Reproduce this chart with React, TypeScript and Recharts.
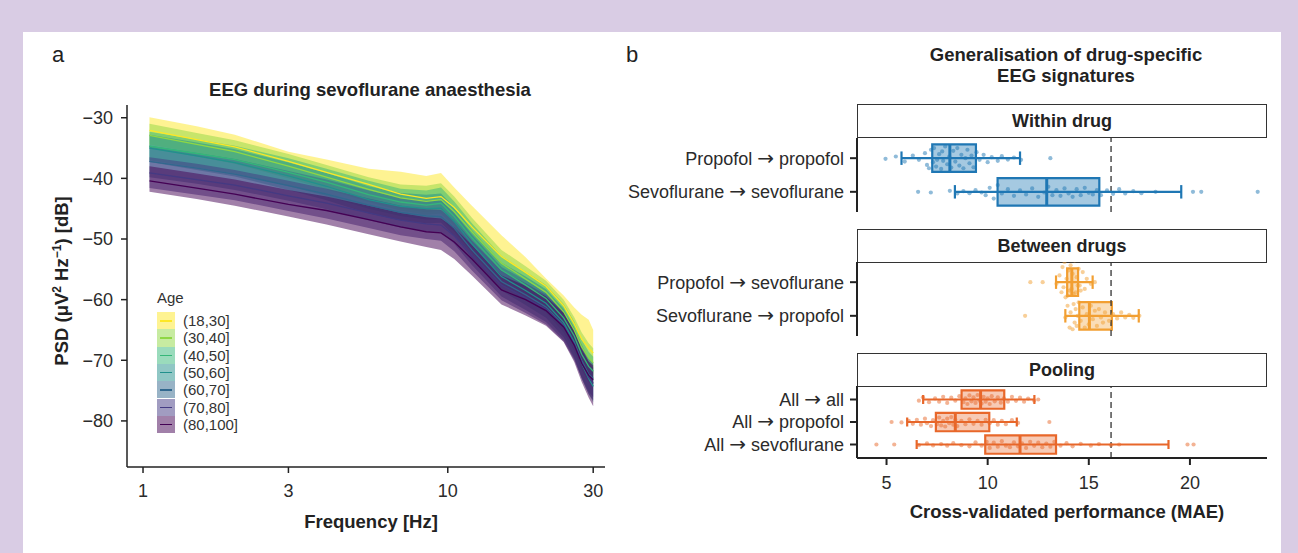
import React from "react";
import {
  ComposedChart,
  Area,
  Line,
  XAxis,
  YAxis,
  Scatter,
  ReferenceArea,
  ReferenceLine,
} from "recharts";

const FONT = '"Liberation Sans", Arial, sans-serif';

// ---- panel a: PSD by age group ----
const freqs = [1.05, 1.5, 2, 3, 4, 5.5, 7, 8.5, 9.5, 10.5, 12, 15, 18, 21, 24, 26, 27.5, 29, 30];

const ageGroups = ["(18,30]", "(30,40]", "(40,50]", "(50,60]", "(60,70]", "(70,80]", "(80,100]"];
const ageColors = ["#FDE725", "#8FD744", "#35B779", "#21908C", "#31688E", "#443A83", "#440154"];

const med18 = [-32.1, -33.6, -34.8, -37.2, -39.0, -41.0, -42.6, -43.3, -43.0, -44.8, -48.0, -52.9, -55.5, -57.8, -61.0, -64.0, -66.5, -68.0, -68.8];
const hi18 = [-29.9, -31.4, -32.8, -35.6, -36.9, -38.4, -38.9, -39.6, -39.1, -41.5, -44.5, -49.4, -53.0, -56.5, -59.3, -61.3, -62.5, -63.3, -65.0];
const lo18 = [-34.4, -35.8, -37.0, -39.5, -41.3, -43.5, -45.0, -45.6, -45.3, -47.2, -50.5, -55.4, -58.2, -60.6, -64.0, -67.3, -70.0, -71.5, -72.3];

const med30 = [-32.9, -34.4, -35.6, -38.0, -39.8, -41.8, -43.2, -43.8, -43.5, -45.5, -48.8, -54.0, -56.6, -58.8, -62.0, -65.0, -67.8, -69.6, -70.4];
const hi30 = [-31.0, -32.5, -33.7, -36.0, -37.8, -39.8, -41.0, -41.2, -40.8, -43.0, -46.5, -51.8, -54.5, -56.9, -60.0, -62.9, -65.4, -67.2, -68.0];
const lo30 = [-35.0, -36.4, -37.6, -40.0, -41.8, -43.9, -45.3, -46.0, -45.8, -47.9, -51.2, -56.3, -58.9, -61.1, -64.4, -67.6, -70.6, -72.4, -73.2];

const med40 = [-34.7, -35.9, -36.9, -39.0, -40.6, -42.7, -43.9, -44.4, -44.1, -46.3, -49.8, -55.1, -57.6, -59.8, -63.0, -66.0, -69.0, -71.0, -71.8];
const hi40 = [-32.3, -33.6, -34.6, -36.7, -38.4, -40.4, -41.7, -42.0, -41.5, -43.8, -47.4, -52.8, -55.4, -57.6, -60.7, -63.6, -66.6, -68.6, -69.4];
const lo40 = [-37.0, -38.2, -39.2, -41.3, -42.9, -45.0, -46.2, -46.8, -46.7, -48.8, -52.2, -57.4, -59.9, -62.1, -65.4, -68.5, -71.6, -73.6, -74.4];

const med50 = [-35.0, -36.3, -37.4, -39.6, -41.3, -43.5, -44.6, -45.0, -44.9, -47.1, -50.8, -56.2, -58.5, -60.6, -63.8, -67.0, -70.5, -73.0, -74.3];
const hi50 = [-32.8, -34.1, -35.2, -37.4, -39.1, -41.3, -42.4, -42.7, -42.5, -44.8, -48.5, -53.9, -56.2, -58.3, -61.5, -64.6, -68.0, -70.5, -71.8];
const lo50 = [-37.3, -38.6, -39.7, -41.9, -43.6, -45.8, -46.9, -47.4, -47.3, -49.5, -53.1, -58.5, -60.9, -63.0, -66.2, -69.5, -73.0, -75.6, -76.9];

const med60 = [-37.2, -38.3, -39.3, -41.2, -42.6, -44.4, -45.6, -46.2, -46.3, -48.2, -51.8, -57.0, -59.2, -61.2, -64.2, -67.2, -70.0, -72.3, -73.0];
const hi60 = [-34.6, -35.8, -36.8, -38.8, -40.2, -42.0, -43.2, -43.7, -43.6, -45.7, -49.3, -54.6, -56.8, -58.8, -61.8, -64.7, -67.4, -69.7, -70.4];
const lo60 = [-39.8, -40.9, -41.9, -43.7, -45.1, -46.9, -48.1, -48.7, -48.9, -50.8, -54.3, -59.5, -61.7, -63.7, -66.7, -69.8, -72.8, -75.2, -76.0];

const med70 = [-39.1, -40.2, -41.1, -42.9, -44.1, -45.7, -46.9, -47.5, -47.7, -49.5, -52.7, -57.6, -59.7, -61.6, -64.4, -67.4, -70.3, -72.8, -73.8];
const hi70 = [-36.5, -37.6, -38.6, -40.4, -41.7, -43.3, -44.5, -45.1, -45.2, -47.0, -50.3, -55.2, -57.3, -59.2, -62.0, -65.0, -67.8, -70.2, -71.2];
const lo70 = [-41.6, -42.7, -43.6, -45.4, -46.6, -48.2, -49.4, -50.0, -50.3, -52.0, -55.2, -60.1, -62.2, -64.1, -66.9, -70.0, -73.0, -75.6, -76.6];

const med80 = [-40.4, -41.6, -42.6, -44.3, -45.3, -46.8, -48.0, -48.8, -49.0, -50.5, -53.3, -58.4, -60.0, -61.8, -64.5, -67.5, -70.5, -72.5, -73.2];
const hi80 = [-38.0, -39.2, -40.2, -41.9, -43.0, -44.5, -45.7, -46.4, -46.6, -48.1, -51.0, -56.0, -57.7, -59.5, -62.2, -65.2, -68.2, -70.2, -70.8];
const lo80 = [-42.2, -43.4, -44.5, -46.3, -47.6, -49.2, -50.4, -51.3, -51.8, -53.3, -56.0, -60.8, -62.6, -64.3, -67.0, -70.3, -73.6, -76.2, -77.6];

const medians = [med18, med30, med40, med50, med60, med70, med80];
const highs = [hi18, hi30, hi40, hi50, hi60, hi70, hi80];
const lows = [lo18, lo30, lo40, lo50, lo60, lo70, lo80];

const psdTicksX = [1, 3, 10, 30];
const psdTicksY = [-30, -40, -50, -60, -70, -80];

// ---- panel b: cross-validated MAE ----
const maeTicks = [5, 10, 15, 20];
const chanceLevel = 16.1;

const withinLabels = ["Propofol \u2192 propofol", "Sevoflurane \u2192 sevoflurane"];
// [lower whisker, q1, median, q3, upper whisker]
const withinStats = [
  [5.74, 7.26, 8.13, 9.42, 11.6],
  [8.38, 10.49, 12.92, 15.52, 19.57],
];
const withinPropofol = [[4.95, 0.02], [5.46, -0.05], [5.9, 0.1], [6.3, -0.08], [6.6, 0.05], [6.9, -0.15], [7.0, 0.2], [7.1, 0.3], [7.2, -0.25], [7.3, 0.12], [7.35, -0.3], [7.45, 0.25], [7.5, 0.05], [7.6, -0.12], [7.7, 0.32], [7.75, -0.2], [7.8, 0.08], [7.9, -0.35], [8.0, 0.18], [8.1, -0.05], [8.2, 0.28], [8.3, -0.22], [8.4, 0.1], [8.5, -0.3], [8.6, 0.22], [8.7, -0.1], [8.8, 0.3], [8.9, 0.0], [9.0, -0.25], [9.1, 0.15], [9.2, -0.08], [9.3, 0.27], [9.45, -0.18], [9.6, 0.05], [9.8, -0.1], [10.0, 0.12], [10.2, -0.03], [10.5, 0.08], [10.7, -0.06], [11.0, 0.04], [11.3, -0.02], [11.65, 0.05], [13.1, 0.0]];
const withinSevo = [[6.56, 0.0], [7.19, 0.02], [8.13, -0.03], [8.5, 0.05], [8.8, -0.02], [9.1, 0.04], [9.4, -0.05], [9.7, 0.02], [9.9, 0.1], [10.1, -0.12], [10.3, 0.2], [10.5, -0.2], [10.7, 0.05], [11.0, -0.08], [11.3, 0.12], [11.6, -0.04], [11.9, 0.08], [12.2, -0.1], [12.5, 0.15], [12.8, 0.02], [13.0, -0.15], [13.2, 0.1], [13.4, -0.05], [13.6, 0.12], [13.8, -0.1], [14.0, 0.05], [14.2, 0.15], [14.4, -0.08], [14.6, 0.1], [14.8, -0.12], [15.0, 0.03], [15.2, 0.08], [15.4, -0.05], [15.6, 0.1], [15.9, -0.04], [16.2, 0.06], [16.5, -0.08], [16.8, 0.05], [17.2, -0.02], [17.6, 0.04], [18.3, 0.0], [20.15, 0.0], [20.56, 0.0], [23.35, 0.0]];

const betweenLabels = ["Propofol \u2192 sevoflurane", "Sevoflurane \u2192 propofol"];
const betweenStats = [
  [13.38, 13.93, 14.16, 14.47, 15.19],
  [13.84, 14.53, 15.03, 16.14, 17.47],
];
const betweenPropSevo = [[12.11, 0.0], [12.72, 0.0], [13.4, 0.05], [13.55, -0.2], [13.65, 0.3], [13.7, -0.45], [13.75, 0.15], [13.8, -0.6], [13.85, 0.45], [13.9, -0.1], [13.95, 0.4], [14.0, -0.35], [14.05, 0.25], [14.1, -0.5], [14.15, 0.2], [14.2, -0.25], [14.25, 0.35], [14.3, -0.65], [14.35, 0.3], [14.4, -0.15], [14.45, 0.1], [14.5, -0.4], [14.55, 0.1], [14.6, 0.25], [14.7, -0.3], [14.8, 0.2], [14.9, -0.1], [15.1, 0.05], [15.3, 0.0]];
const betweenSevoProp = [[11.85, 0.0], [13.84, 0.05], [13.95, -0.3], [14.05, 0.35], [14.1, -0.1], [14.2, 0.4], [14.25, -0.35], [14.3, 0.2], [14.35, -0.2], [14.4, 0.3], [14.45, 0.0], [14.5, -0.4], [14.6, 0.15], [14.7, -0.25], [14.8, 0.35], [14.9, -0.05], [15.0, 0.25], [15.1, -0.3], [15.2, 0.1], [15.3, -0.15], [15.4, 0.3], [15.5, -0.2], [15.6, 0.05], [15.7, 0.2], [15.8, -0.1], [16.0, 0.15], [16.2, -0.05], [16.4, 0.08], [16.6, -0.1], [16.8, 0.05], [17.0, -0.03], [17.2, 0.06], [17.5, 0.0]];

const poolingLabels = ["All \u2192 all", "All \u2192 propofol", "All \u2192 sevoflurane"];
const poolingStats = [
  [6.81, 8.71, 9.65, 10.82, 12.31],
  [6.02, 7.44, 8.4, 10.08, 11.44],
  [6.49, 9.88, 11.6, 13.38, 18.94],
];
const poolAll = [[6.6, 0.05], [6.8, -0.1], [7.1, 0.12], [7.4, -0.05], [7.6, 0.1], [7.8, -0.12], [8.0, 0.15], [8.2, -0.08], [8.4, 0.05], [8.6, -0.15], [8.8, 0.12], [8.9, -0.05], [9.0, 0.2], [9.1, -0.18], [9.2, 0.08], [9.3, -0.1], [9.4, 0.15], [9.5, -0.2], [9.6, 0.05], [9.7, 0.18], [9.8, -0.12], [9.9, 0.1], [10.0, -0.05], [10.1, 0.2], [10.2, -0.15], [10.35, 0.08], [10.5, -0.1], [10.65, 0.14], [10.8, -0.05], [11.0, 0.1], [11.2, -0.12], [11.4, 0.06], [11.6, -0.08], [11.8, 0.1], [12.0, -0.04], [12.3, 0.05], [12.5, 0.0]];
const poolProp = [[5.25, 0.0], [5.74, 0.02], [6.1, -0.05], [6.3, 0.08], [6.5, -0.1], [6.7, 0.12], [6.9, -0.15], [7.0, 0.05], [7.2, 0.18], [7.3, -0.08], [7.5, 0.1], [7.6, -0.2], [7.7, 0.15], [7.8, -0.05], [7.9, 0.2], [8.0, -0.15], [8.1, 0.05], [8.2, -0.22], [8.3, 0.12], [8.4, -0.1], [8.5, 0.18], [8.7, -0.05], [8.9, 0.1], [9.1, -0.12], [9.3, 0.08], [9.5, -0.05], [9.7, 0.12], [9.9, -0.1], [10.1, 0.05], [10.3, -0.08], [10.5, 0.12], [10.7, -0.05], [10.9, 0.1], [11.2, -0.08], [11.5, 0.04], [13.05, 0.0]];
const poolSevo = [[4.5, 0.0], [5.38, 0.0], [6.6, 0.03], [7.0, -0.05], [7.3, 0.04], [7.7, -0.02], [8.0, 0.05], [8.3, -0.06], [8.7, 0.03], [9.1, 0.08], [9.4, -0.1], [9.7, 0.05], [9.95, -0.12], [10.1, 0.15], [10.3, -0.08], [10.5, 0.1], [10.7, -0.15], [10.9, 0.05], [11.1, 0.12], [11.3, -0.1], [11.5, 0.08], [11.7, -0.05], [11.9, 0.15], [12.1, -0.12], [12.3, 0.06], [12.5, -0.08], [12.7, 0.12], [12.9, -0.04], [13.1, 0.1], [13.3, -0.12], [13.6, 0.05], [13.9, -0.06], [14.2, 0.08], [14.6, -0.03], [15.1, 0.05], [15.5, -0.02], [16.1, 0.03], [16.5, 0.0], [19.88, 0.0], [20.18, 0.0]];

const psdData = freqs.map((f, i) => {
  const row: Record<string, any> = { f };
  ageGroups.forEach((_, g) => {
    row["m" + g] = medians[g][i];
    row["r" + g] = [lows[g][i], highs[g][i]];
  });
  return row;
});

const tickStyle = { fill: "#2b2b2b", fontSize: 18, fontFamily: FONT };

function Txt({ x, y, size = 18.5, bold = true, children, style = {} }: any) {
  return (
    <div
      style={{
        position: "absolute",
        left: x,
        top: y,
        transform: "translate(-50%, -50%)",
        fontSize: size,
        fontWeight: bold ? 700 : 400,
        lineHeight: 1,
        whiteSpace: "nowrap",
        color: "#222",
        ...style,
      }}
    >
      {children}
    </div>
  );
}

const PsdChart = () => (
  <ComposedChart
    width={620}
    height={553}
    data={psdData}
    margin={{ top: 105, right: 15, bottom: 56, left: 77 }}
  >
    <XAxis
      dataKey="f"
      type="number"
      scale="log"
      domain={[0.886, 32.8]}
      ticks={psdTicksX}
      allowDataOverflow
      height={30}
      tick={tickStyle}
      tickSize={6}
      tickMargin={11}
      axisLine={{ stroke: "#222", strokeWidth: 1.5 }}
      tickLine={{ stroke: "#222", strokeWidth: 1.5 }}
    />
    <YAxis
      type="number"
      domain={[-87.6, -27.9]}
      ticks={psdTicksY}
      allowDataOverflow
      width={50}
      tick={tickStyle}
      tickSize={6}
      tickMargin={8}
      tickFormatter={(v: number) => "\u2212" + Math.abs(v)}
      axisLine={{ stroke: "#222", strokeWidth: 1.5 }}
      tickLine={{ stroke: "#222", strokeWidth: 1.5 }}
    />
    {ageGroups.map((g, i) => (
      <Area
        key={"a" + g}
        dataKey={"r" + i}
        type="linear"
        stroke="none"
        fill={ageColors[i]}
        fillOpacity={0.5}
        isAnimationActive={false}
      />
    ))}
    {ageGroups.map((g, i) => (
      <Line
        key={"l" + g}
        dataKey={"m" + i}
        type="linear"
        stroke={ageColors[i]}
        strokeWidth={1.3}
        dot={false}
        isAnimationActive={false}
      />
    ))}
  </ComposedChart>
);

const Dot = (props: any) => {
  const { cx, cy, fill } = props;
  if (cx == null || cy == null) return null;
  return <circle cx={cx} cy={cy} r={2.1} fill={fill} fillOpacity={0.5} />;
};

// row label with a wider arrow glyph
const RowTick = (props: any) => {
  const { x, y, payload, labels } = props;
  const label: string = labels[Math.round(payload.value) - 1] || "";
  const [from, to] = label.split(" \u2192 ");
  return (
    <text x={x} y={y} dy="0.36em" textAnchor="end" fill="#2b2b2b" fontSize={18} fontFamily={FONT}>
      {from + " "}
      <tspan fontFamily='"DejaVu Sans", sans-serif' fontSize={20}>{"\u2192"}</tspan>
      {" " + to}
    </text>
  );
};

function Facet({ labels, stats, points, color, showX, boxOpacity }: any) {
  const n = labels.length;
  const dots = points.flatMap((pts: number[][], i: number) =>
    pts.map(([v, j]) => ({ x: v, y: i + 1 + j }))
  );
  const plotH = n === 3 ? 72 : 74;
  const half = 0.41;
  const cap = 0.2;
  return (
    <ComposedChart
      width={680}
      height={8 + plotH + (showX ? 42 : 8)}
      margin={{ top: 8, right: 13, bottom: showX ? 0 : 8, left: 17 }}
    >
      <XAxis
        dataKey="x"
        type="number"
        domain={[3.54, 23.81]}
        ticks={maeTicks}
        allowDataOverflow
        hide={!showX}
        height={42}
        tick={tickStyle}
        tickSize={7}
        tickMargin={11}
        axisLine={{ stroke: "#222", strokeWidth: 2 }}
        tickLine={{ stroke: "#222", strokeWidth: 2 }}
      />
      <YAxis
        dataKey="y"
        type="number"
        reversed
        domain={[0.4, n + 0.6]}
        ticks={labels.map((_: string, i: number) => i + 1)}
        interval={0}
        allowDataOverflow
        width={240}
        tick={<RowTick labels={labels} />}
        tickSize={7}
        tickMargin={6}
        axisLine={{ stroke: "#222", strokeWidth: 2 }}
        tickLine={{ stroke: "#222", strokeWidth: 2 }}
      />
      <ReferenceLine x={chanceLevel} stroke="#333" strokeWidth={1.3} strokeDasharray="6 4" />
      {stats.map((s: number[], i: number) => (
        <ReferenceLine
          key={"w" + i}
          segment={[{ x: s[0], y: i + 1 }, { x: s[4], y: i + 1 }]}
          stroke={color}
          strokeWidth={2.2}
        />
      ))}
      {stats.map((s: number[], i: number) => (
        <ReferenceLine
          key={"cl" + i}
          segment={[{ x: s[0], y: i + 1 - cap }, { x: s[0], y: i + 1 + cap }]}
          stroke={color}
          strokeWidth={2.2}
        />
      ))}
      {stats.map((s: number[], i: number) => (
        <ReferenceLine
          key={"ch" + i}
          segment={[{ x: s[4], y: i + 1 - cap }, { x: s[4], y: i + 1 + cap }]}
          stroke={color}
          strokeWidth={2.2}
        />
      ))}
      {stats.map((s: number[], i: number) => (
        <ReferenceArea
          key={"b" + i}
          x1={s[1]}
          x2={s[3]}
          y1={i + 1 - half}
          y2={i + 1 + half}
          fill={color}
          fillOpacity={boxOpacity}
          stroke={color}
          strokeWidth={2.2}
          strokeOpacity={1}
        />
      ))}
      {stats.map((s: number[], i: number) => (
        <ReferenceLine
          key={"m" + i}
          segment={[{ x: s[2], y: i + 1 - half }, { x: s[2], y: i + 1 + half }]}
          stroke={color}
          strokeWidth={3}
        />
      ))}
      <Scatter data={dots} fill={color} shape={<Dot />} isAnimationActive={false} />
    </ComposedChart>
  );
}

function Strip({ top, title }: any) {
  return (
    <div
      style={{
        position: "absolute",
        left: 857,
        top,
        width: 410,
        height: 34,
        boxSizing: "border-box",
        border: "1.5px solid #333",
        display: "flex",
        alignItems: "center",
        justifyContent: "center",
        fontWeight: 700,
        fontSize: 18,
        color: "#222",
        background: "#fff",
      }}
    >
      {title}
    </div>
  );
}

export default function App() {
  return (
    <div
      style={{
        position: "absolute",
        left: 0,
        top: 0,
        width: 1298,
        height: 553,
        overflow: "hidden",
        background: "#d9cce4",
        fontFamily: FONT,
      }}
    >
      <div style={{ position: "absolute", left: 23, top: 32, width: 1258, height: 521, background: "#fff" }} />

      {/* panel a */}
      <div style={{ position: "absolute", left: 0, top: 0 }}>
        <PsdChart />
      </div>
      <Txt x={58} y={55} size={22} bold={false}>a</Txt>
      <Txt x={370} y={90}>EEG during sevoflurane anaesthesia</Txt>
      <Txt x={371} y={522}>Frequency [Hz]</Txt>
      <Txt x={61} y={281} style={{ transform: "translate(-50%, -50%) rotate(-90deg)" }}>
        PSD (μV<sup style={{ fontSize: 12 }}>2</sup> Hz<sup style={{ fontSize: 12 }}>−1</sup>) [dB]
      </Txt>
      <div style={{ position: "absolute", left: 157, top: 290, fontSize: 15, color: "#333", lineHeight: 1 }}>Age</div>
      {ageGroups.map((g, i) => (
        <div key={g} style={{ position: "absolute", left: 157, top: 312 + i * 17.3, height: 17.3, display: "flex", alignItems: "center" }}>
          <div style={{ position: "relative", width: 18, height: 17.3, background: ageColors[i], opacity: 0.5 }} />
          <div style={{ position: "absolute", left: 3, top: 8, width: 12, height: 1.5, background: ageColors[i] }} />
          <span style={{ marginLeft: 8, fontSize: 15, color: "#333" }}>{g}</span>
        </div>
      ))}

      {/* panel b */}
      <Txt x={632} y={55} size={22} bold={false}>b</Txt>
      <Txt x={1066} y={55}>Generalisation of drug-specific</Txt>
      <Txt x={1066} y={76}>EEG signatures</Txt>

      <Strip top={104} title="Within drug" />
      <div style={{ position: "absolute", left: 600, top: 130 }}>
        <Facet labels={withinLabels} stats={withinStats} points={[withinPropofol, withinSevo]} color="#1F77B4" boxOpacity={0.4} />
      </div>

      <Strip top={229} title="Between drugs" />
      <div style={{ position: "absolute", left: 600, top: 254 }}>
        <Facet labels={betweenLabels} stats={betweenStats} points={[betweenPropSevo, betweenSevoProp]} color="#F29F32" boxOpacity={0.35} />
      </div>

      <Strip top={353} title="Pooling" />
      <div style={{ position: "absolute", left: 600, top: 378 }}>
        <Facet labels={poolingLabels} stats={poolingStats} points={[poolAll, poolProp, poolSevo]} color="#E8672A" boxOpacity={0.35} showX />
      </div>
      <Txt x={1067} y={512}>Cross-validated performance (MAE)</Txt>
    </div>
  );
}
